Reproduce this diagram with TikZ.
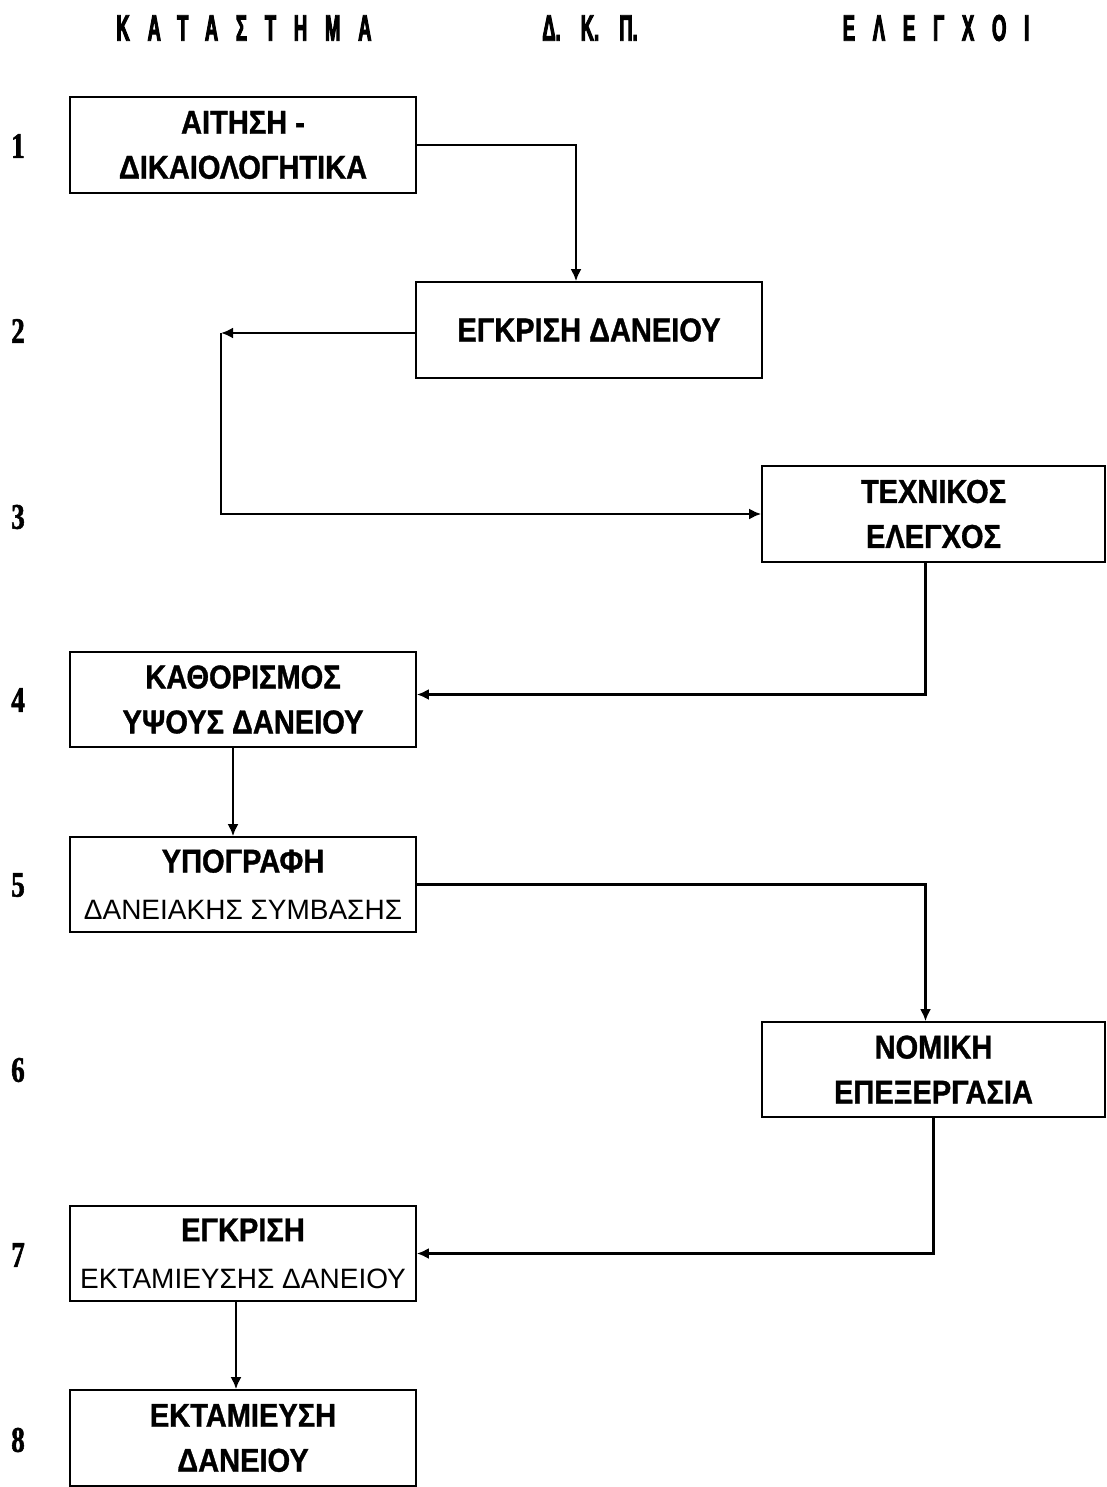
\documentclass[tikz,border=0pt]{standalone}
\usepackage{fontspec}
\setmainfont{Liberation Sans}
\newfontfamily\hdrfont{Liberation Sans Bold}[FakeStretch=0.5,FakeBold=2.5,LetterSpace=48]
\newfontfamily\hdrtight{Liberation Sans Bold}[FakeStretch=0.5,FakeBold=2.5]
\newfontfamily\numfont{Liberation Serif Bold}[FakeStretch=0.75,FakeBold=1.5]
\newfontfamily\boxfont{Liberation Sans Bold}[FakeStretch=0.88,FakeBold=1]
\usetikzlibrary{arrows.meta}
\usetikzlibrary{positioning}
\tikzset{>={Latex[length=12pt,width=11pt]}}
\tikzset{stepbox/.style={draw, line width=1.6pt, minimum width=346pt, minimum height=96pt, inner sep=0pt, align=center, font=\boxfont\fontsize{33}{45}\selectfont},
  conn/.style={->, line width=2.6pt},
  colhead/.style={font=\hdrfont\fontsize{37}{37}\selectfont, inner sep=0pt},
  rownum/.style={font=\numfont\fontsize{36}{36}\selectfont, inner sep=0pt}}
\newcommand{\subline}[1]{{\normalfont\fontsize{28}{30}\selectfont #1}}

\begin{document}
\begin{tikzpicture}[x=1pt,y=-1pt]
\useasboundingbox (0,0) rectangle (1106,1487);
%% column heads
  \node (hd_shop) at (244,28) [colhead] {ΚΑΤΑΣΤΗΜΑ};
  \node (hd_dkp) at (590,28) [colhead, font=\hdrtight\fontsize{37}{37}\selectfont] {Δ.\hspace{20pt}Κ.\hspace{20pt}Π.};
  \node (hd_chk) at (936,28) [colhead] {ΕΛΕΓΧΟΙ};
%% step numbers
  \node (n_1) at (18,146) [rownum] {1};
  \node (n_2) at (18,331) [rownum] {2};
  \node (n_3) at (18,517) [rownum] {3};
  \node (n_4) at (18,700) [rownum] {4};
  \node (n_5) at (18,885) [rownum] {5};
  \node (n_6) at (18,1070) [rownum] {6};
  \node (n_7) at (18,1255) [rownum] {7};
  \node (n_8) at (18,1440) [rownum] {8};
%% boxes
  \node (b_apply) at (243,145) [stepbox] {ΑΙΤΗΣΗ -\\ΔΙΚΑΙΟΛΟΓΗΤΙΚΑ};
  \node (b_approve) at (589,330) [stepbox] {ΕΓΚΡΙΣΗ ΔΑΝΕΙΟΥ};
  \node (b_tech) at (933.5,514) [stepbox, minimum width=343pt] {ΤΕΧΝΙΚΟΣ\\ΕΛΕΓΧΟΣ};
  \node (b_amount) at (243,699.5) [stepbox, minimum height=95pt] {ΚΑΘΟΡΙΣΜΟΣ\\ΥΨΟΥΣ ΔΑΝΕΙΟΥ};
  \node (b_sign) at (243,884.5) [stepbox, minimum height=95pt] {ΥΠΟΓΡΑΦΗ\\[2pt]\subline{ΔΑΝΕΙΑΚΗΣ ΣΥΜΒΑΣΗΣ}};
  \node (b_legal) at (933.5,1069.5) [stepbox, minimum width=343pt, minimum height=95pt] {ΝΟΜΙΚΗ\\ΕΠΕΞΕΡΓΑΣΙΑ};
  \node (b_payok) at (243,1253.5) [stepbox, minimum height=95pt] {ΕΓΚΡΙΣΗ\\[2pt]\subline{ΕΚΤΑΜΙΕΥΣΗΣ ΔΑΝΕΙΟΥ}};
  \node (b_pay) at (243,1438) [stepbox] {ΕΚΤΑΜΙΕΥΣΗ\\ΔΑΝΕΙΟΥ};
  \coordinate (turn) at (221,333);
%% connectors
  \draw [conn] (b_apply.east) -| ([xshift=-13pt]b_approve.north);
  \draw [conn] (b_approve.west |- turn) -- (turn);
  \draw [conn, -] (turn) |- ([xshift=-12pt]b_tech.west);
  \draw [conn] ([xshift=-14pt]b_tech.west) -- (b_tech.west);
  \draw [conn] ([xshift=-8pt]b_tech.south) |- ([yshift=5pt]b_amount.east);
  \draw [conn] ([xshift=-10pt]b_amount.south) -- ([xshift=-10pt]b_sign.north);
  \draw [conn] (b_sign.east) -| ([xshift=-8pt]b_legal.north);
  \draw [conn] (b_legal.south) |- (b_payok.east);
  \draw [conn] ([xshift=-7pt]b_payok.south) -- ([xshift=-7pt]b_pay.north);
%
\end{tikzpicture}
\end{document}
